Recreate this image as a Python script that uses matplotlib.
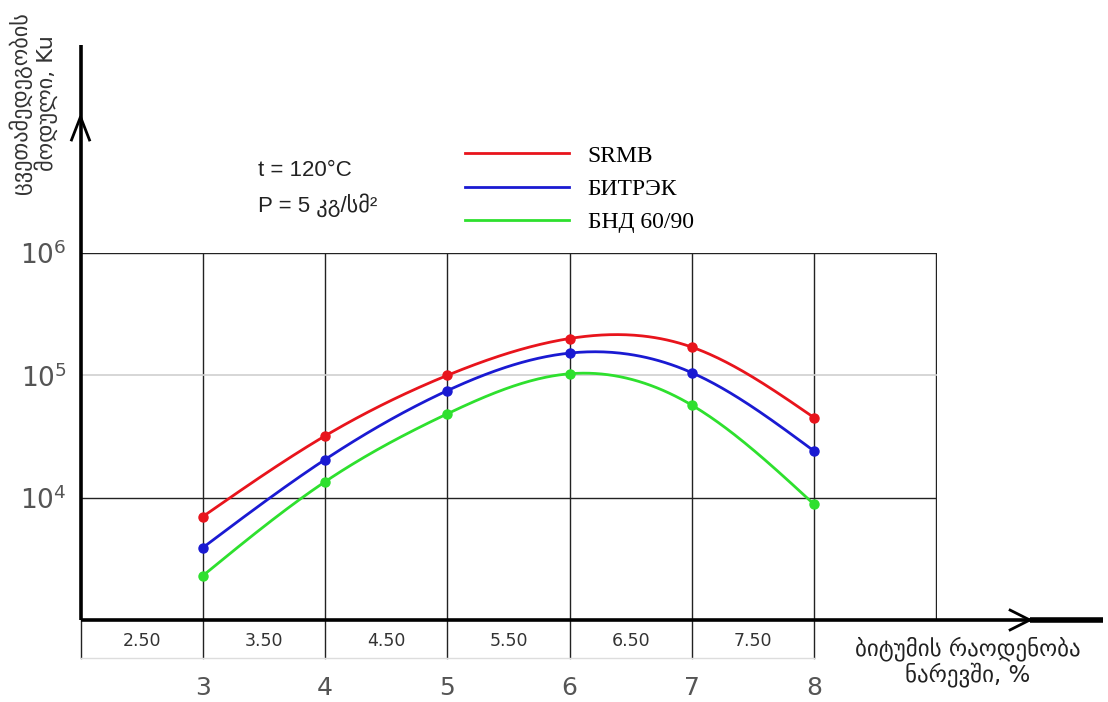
import numpy as np
import matplotlib
matplotlib.use('Agg')
import matplotlib.pyplot as plt
import matplotlib.transforms as mtransforms

# %% data

bitumen = [3, 4, 5, 6, 7, 8]
srmb = [7000, 32000, 100000, 200000, 170000, 45000]
bitrek = [3900, 20500, 75000, 152000, 105000, 24000]
bnd = [2300, 13500, 48500, 103000, 57000, 8800]

series_names = ['SRMB', 'БИТРЭК', 'БНД 60/90']
series_colors = ['#e8141c', '#1a1ad2', '#2ee02e']

table_pos = [2.5, 3.5, 4.5, 5.5, 6.5, 7.5]
table_labels = ['2.50', '3.50', '4.50', '5.50', '6.50', '7.50']

ytick_vals = [1e4, 1e5, 1e6]
ytick_labels = ['$10^4$', '$10^5$', '$10^6$']

ylabel = 'ცვეთამედეგობის\nმოდული, Ku'
xlabel = 'ბიტუმის რაოდენობა\nნარევში, %'


def smooth(x, y, n=300):
    # natural cubic spline, only used to draw the curve between the points
    x = np.asarray(x, float)
    y = np.asarray(y, float)
    h = np.diff(x)
    nn = len(x)
    A = np.zeros((nn, nn))
    b = np.zeros(nn)
    A[0, 0] = A[-1, -1] = 1
    for i in range(1, nn - 1):
        A[i, i - 1] = h[i - 1]
        A[i, i] = 2 * (h[i - 1] + h[i])
        A[i, i + 1] = h[i]
        b[i] = 3 * ((y[i + 1] - y[i]) / h[i] - (y[i] - y[i - 1]) / h[i - 1])
    c = np.linalg.solve(A, b)
    xs = np.linspace(x[0], x[-1], n)
    idx = np.clip(np.searchsorted(x, xs) - 1, 0, nn - 2)
    dx = xs - x[idx]
    bb = (y[1:] - y[:-1]) / h - h * (2 * c[:-1] + c[1:]) / 3
    d = (c[1:] - c[:-1]) / (3 * h)
    ys = y[idx] + bb[idx] * dx + c[idx] * dx ** 2 + d[idx] * dx ** 3
    return xs, ys


# %% figure

W, H = 1108, 702
fig = plt.figure(figsize=(W / 100, H / 100), dpi=100)
ax = fig.add_axes([80.5 / W, (H - 620) / H, 856 / W, 367 / H])
ax.set_yscale('log')
ax.set_xlim(2, 9)
ax.set_ylim(1e3, 1e6)
for s in ax.spines.values():
    s.set_visible(False)

# grid
for xv in range(3, 10):
    ax.axvline(xv, color='#222222', lw=1.0, zorder=1)
ax.axhline(1e4, color='#222222', lw=1.0, zorder=1)
ax.axhline(1e6, color='#222222', lw=1.0, zorder=1)
ax.axhline(1e5, color='#d0d0d0', lw=1.2, zorder=1)

# curves
for vals, name, col in zip([srmb, bitrek, bnd], series_names, series_colors):
    xs, ys = smooth(bitumen, np.log10(vals))
    ax.plot(xs, 10 ** ys, color=col, lw=2.0, label=name, zorder=3)
    ax.plot(bitumen, vals, 'o', color=col, ms=6.5, zorder=4)

# ticks
ax.set_xticks(bitumen)
ax.set_xticklabels([str(v) for v in bitumen])
ax.set_yticks(ytick_vals)
ax.set_yticklabels(ytick_labels)
ax.minorticks_off()
ax.tick_params(axis='x', length=0, pad=40, labelsize=18, labelcolor='#555555')
ax.tick_params(axis='y', length=0, pad=10, labelsize=19, labelcolor='#555555')

# table row under the x axis
tr = mtransforms.blended_transform_factory(ax.transData, ax.transAxes)
for xv in range(2, 9):
    ax.plot([xv, xv], [0, -0.1035], color='#222222', lw=1.0, transform=tr, clip_on=False)
ax.plot([2, 8], [-0.1035, -0.1035], color='#dddddd', lw=1.0, transform=tr, clip_on=False)
for xp, lab in zip(table_pos, table_labels):
    ax.text(xp, -0.057, lab, transform=tr, ha='center', va='center', fontsize=12.5, color='#333333')

# axes with arrows
ax.plot([0, 0], [0, 1.567], color='black', lw=2.6, transform=ax.transAxes, clip_on=False, solid_capstyle='butt')
ax.plot([-0.0105, 0, 0.0105], [1.308, 1.371, 1.308], color='black', lw=2.0, transform=ax.transAxes, clip_on=False)
ax.plot([0, 1.1945], [0, 0], color='black', lw=2.6, transform=ax.transAxes, clip_on=False, solid_capstyle='butt')
ax.plot([1.109, 1.1945], [0, 0], color='black', lw=4.0, transform=ax.transAxes, clip_on=False, solid_capstyle='butt')
ax.plot([1.086, 1.109, 1.086], [0.027, 0, -0.027], color='black', lw=2.0, transform=ax.transAxes, clip_on=False)

# legend
leg = ax.legend(loc='upper left', bbox_to_anchor=(465 / W, 1 - 145 / H), bbox_transform=fig.transFigure,
                frameon=False, borderpad=0, borderaxespad=0, handlelength=4.4, handletextpad=0.8,
                labelspacing=0.5, prop={'family': 'Liberation Serif', 'size': 17})

# annotations
fam = ['Liberation Sans', 'DejaVu Sans']
fig.text(258 / W, 1 - 170 / H, 't = 120°C', ha='left', va='center', fontsize=16, family=fam, color='#222222')
fig.text(258 / W, 1 - 205 / H, 'P = 5 კგ/სმ²', ha='left', va='center', fontsize=16, family=fam, color='#222222')

fig.text(33 / W, 1 - 103 / H, ylabel, rotation=90, ha='center', va='center', multialignment='center',
         fontsize=16, color='#333333', linespacing=1.1)
fig.text(968 / W, 1 - 662 / H, xlabel, ha='center', va='center', multialignment='center',
         fontsize=16.5, color='#222222', linespacing=1.05)

fig.savefig('out.png', dpi=100)
